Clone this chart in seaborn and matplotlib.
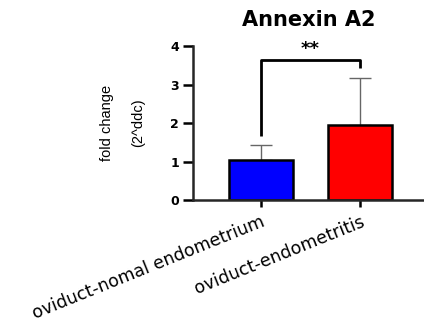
import numpy as np
import pandas as pd
import matplotlib
matplotlib.use("Agg")
import matplotlib.pyplot as plt
import seaborn as sns

# ============================================================
# Data
# ============================================================
groups = ["oviduct-nomal endometrium", "oviduct-endometritis"]
means = [1.04, 1.95]
err_up = [0.39, 1.22]
bar_colors = ["#0000FF", "#FF0000"]
y_ticks = [0, 1, 2, 3, 4]
title = "Annexin A2"
y_label = "fold change\n(2^ddc)"
sig_label = "**"

df = pd.DataFrame({"group": groups, "mean": means})

# ============================================================
# Plot
# ============================================================
sns.set_theme(style="ticks")
plt.rcParams["font.family"] = ["Liberation Sans", "DejaVu Sans"]
plt.rcParams["text.color"] = "black"
plt.rcParams["axes.labelcolor"] = "black"
WIDE = ["DejaVu Sans"]

fig = plt.figure(figsize=(4.24, 3.27), dpi=100)
ax = fig.add_axes([0.455, 0.388, 0.545, 0.471])

sns.barplot(data=df, x="group", y="mean", hue="group", palette=bar_colors,
            saturation=1, width=0.65, edgecolor="black", linewidth=1.8,
            errorbar=None, legend=False, zorder=2, ax=ax)

# upward-only error bars (behind the bars)
x = np.arange(len(groups))
ax.errorbar(x, means, yerr=[np.zeros(len(means)), err_up], fmt="none",
            ecolor="#666666", elinewidth=1.0, capsize=8, capthick=1.0, zorder=1)

# significance bracket
y_left = 1.66
y_top = 3.64
y_right = 3.43
ax.plot([0, 0, 1, 1], [y_left, y_top, y_top, y_right], color="black",
        lw=2.0, solid_capstyle="butt", clip_on=False)
ax.text(0.5, y_top + 0.05, sig_label, ha="center", va="bottom",
        fontsize=13, fontweight="bold", family=WIDE)

ax.set_xlim(-0.687, 1.646)
ax.set_ylim(0, 4)
ax.set_yticks(y_ticks)
ax.set_yticklabels([str(t) for t in y_ticks], fontsize=9, fontweight="bold",
                   family=WIDE)
ax.set_xticks(x)
ax.set_xticklabels(groups, rotation=22, ha="right", rotation_mode="anchor",
                   fontsize=12.5, family=WIDE)
ax.set_xlabel("")
ax.set_ylabel(y_label, fontsize=10.5, linespacing=2.6)
ax.yaxis.set_label_coords(-0.205, 0.5)

for side in ["top", "right"]:
    ax.spines[side].set_visible(False)
for side in ["left", "bottom"]:
    ax.spines[side].set_linewidth(1.8)
ax.tick_params(axis="both", direction="out", width=1.8, colors="black")
ax.tick_params(axis="y", length=7, pad=3)
ax.tick_params(axis="x", length=5, pad=4)

fig.text(0.729, 0.94, title, ha="center", va="center",
         fontsize=15, fontweight="bold", family=WIDE)

fig.savefig("out.png", dpi=100)
